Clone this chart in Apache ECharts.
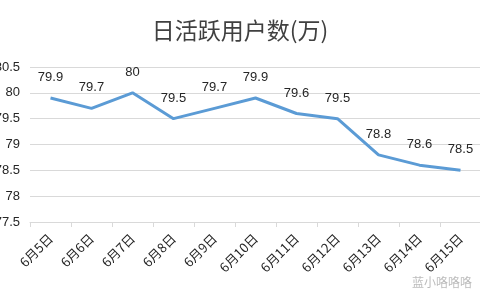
<!DOCTYPE html>
<html><head><meta charset="utf-8">
<script src="https://cdn.jsdelivr.net/npm/echarts@6/dist/echarts.min.js"></script>
<style>html,body{margin:0;padding:0;background:#fff}#c{width:480px;height:300px}</style>
</head><body><div id="c"></div>
<script>
var categories = ['6月5日','6月6日','6月7日','6月8日','6月9日','6月10日','6月11日','6月12日','6月13日','6月14日','6月15日'];
var values = [79.9, 79.7, 80, 79.5, 79.7, 79.9, 79.6, 79.5, 78.8, 78.6, 78.5];
var titleText = '日活跃用户数(万)';
var chart = echarts.init(document.getElementById('c'));
chart.setOption({
  animation: false,
  backgroundColor: '#fff',
  title: { text: titleText, left: 'center', top: 14, textStyle: { fontFamily: 'Noto Sans CJK SC', fontSize: 23, fontWeight: 'normal', color: '#404040' } },
  grid: { left: 30, right: -1, top: 67, bottom: 78, containLabel: false, outerBoundsMode: 'none' },
  xAxis: {
    type: 'category', data: categories, boundaryGap: true,
    axisLine: { lineStyle: { color: '#d9d9d9' } },
    axisTick: { show: true, length: 5, lineStyle: { color: '#d9d9d9' } },
    axisLabel: { rotate: 45, margin: 14, interval: 0, fontSize: 13, color: '#262626', fontFamily: 'Noto Sans CJK SC' }
  },
  yAxis: {
    type: 'value', min: 77.5, max: 80.5, interval: 0.5,
    axisLine: { show: false }, axisTick: { show: false },
    splitLine: { lineStyle: { color: '#d9d9d9' } },
    axisLabel: { margin: 10, fontSize: 13, color: '#262626', fontFamily: 'Liberation Sans' }
  },
  series: [{
    type: 'line', data: values, symbol: 'circle', symbolSize: 0, showSymbol: true,
    lineStyle: { color: '#5b9bd5', width: 3 },
    itemStyle: { color: '#5b9bd5' },
    label: { show: true, position: 'top', distance: 14, fontSize: 13, color: '#262626', fontFamily: 'Liberation Sans' }
  }],
  graphic: [{ type: 'text', left: 412, top: 276, style: { text: '蓝小咯咯咯', fontSize: 12, fill: 'rgba(120,120,120,0.5)', fontFamily: 'Noto Sans CJK SC' } }]
});
</script></body></html>
